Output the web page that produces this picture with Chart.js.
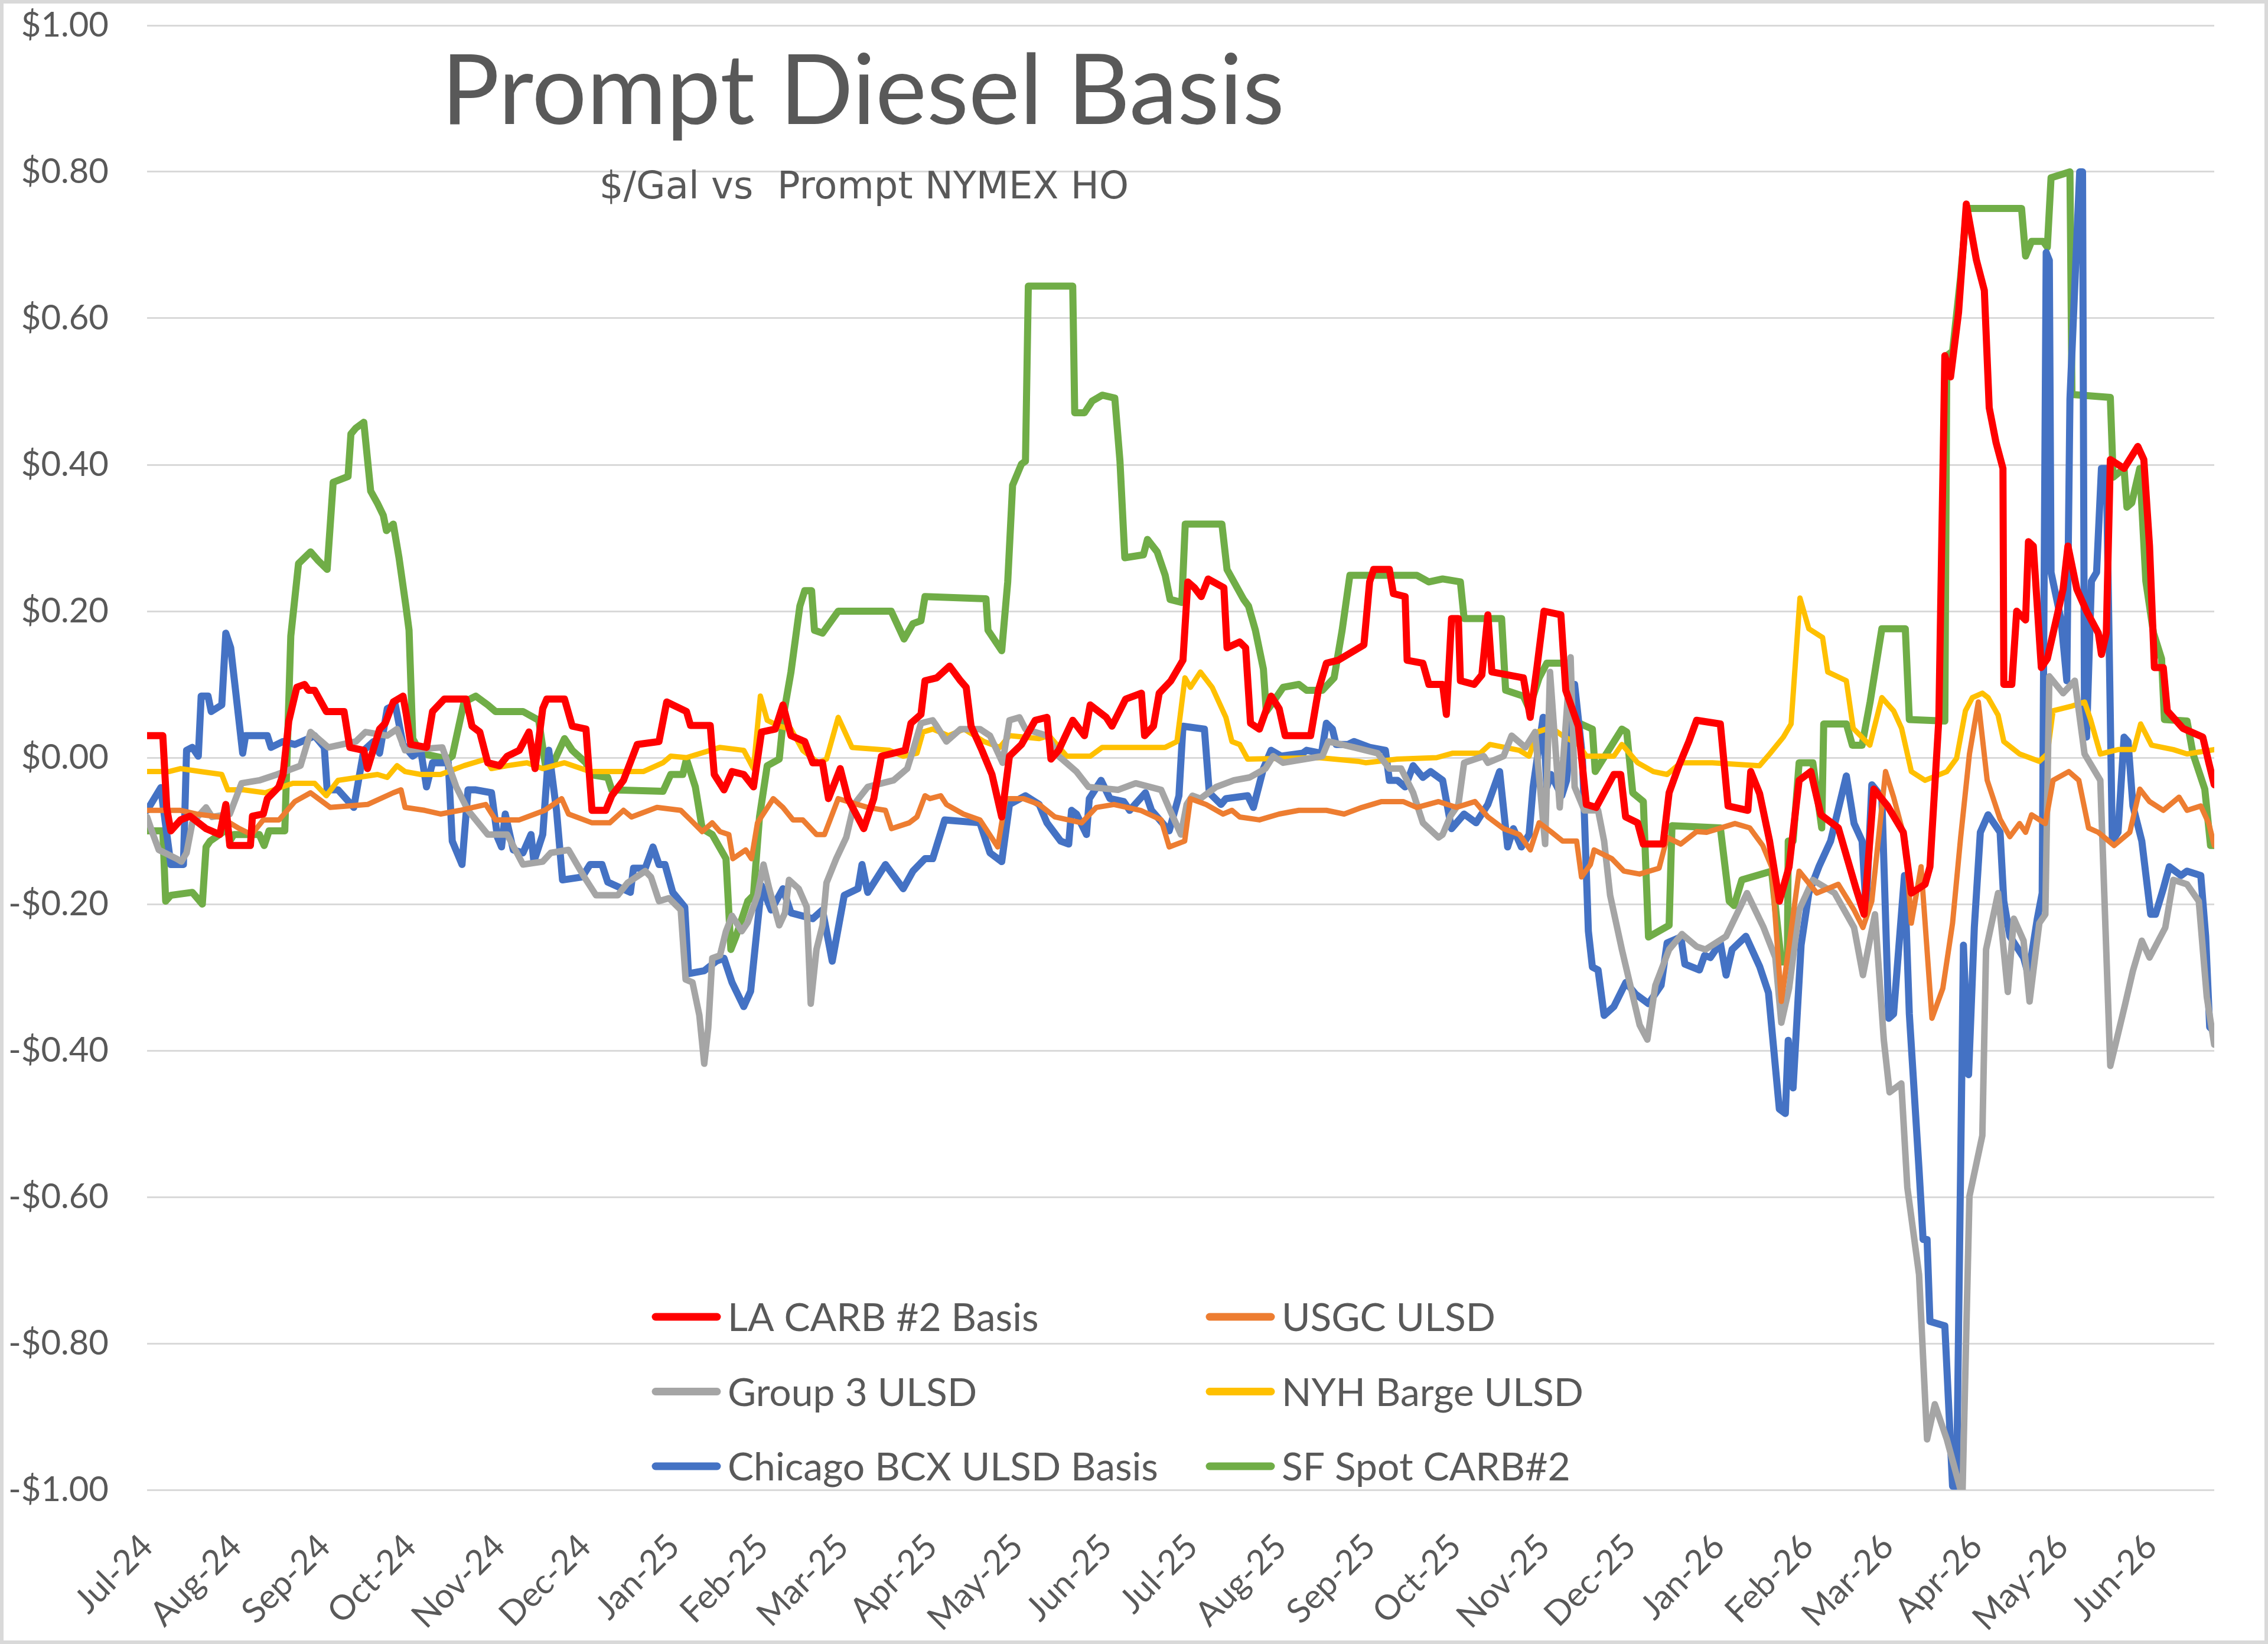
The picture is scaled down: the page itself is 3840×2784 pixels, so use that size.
<!DOCTYPE html>
<html lang="en">
  <head>
    <meta charset="UTF-8" />
    <title>Prompt Diesel Basis</title>
    <script src="https://cdn.jsdelivr.net/npm/chart.js"></script>
    <style>
      html, body { margin: 0; padding: 0; background: #fff; overflow: hidden; }
      canvas { display: block; }
    </style>
  </head>
  <body>
    <canvas id="basisChart" width="3840" height="2784"></canvas>

    <script>
      // x values are days since 1 Jul 2024, y values are $/gal vs prompt NYMEX HO
      const monthLabels = [
        "Jul-24", "Aug-24", "Sep-24", "Oct-24", "Nov-24", "Dec-24",
        "Jan-25", "Feb-25", "Mar-25", "Apr-25", "May-25", "Jun-25",
        "Jul-25", "Aug-25", "Sep-25", "Oct-25", "Nov-25", "Dec-25",
        "Jan-26", "Feb-26", "Mar-26", "Apr-26", "May-26", "Jun-26",
      ];
      const lastDay = 722;

      const laCarb = [
        [0,0.03],[5.5,0.03],[6.9,-0.07],[8.3,-0.1],[11.7,-0.085],[15,-0.08],[20.6,-0.097],[25.4,-0.105],[27.5,-0.064],[28.9,-0.12],
        [36.1,-0.12],[36.8,-0.08],[40.6,-0.077],[42,-0.056],[46,-0.04],[47.5,-0.023],[49.5,0.05],[52.3,0.096],[55,0.1],[56.4,0.092],
        [58.5,0.092],[62.6,0.063],[68.8,0.063],[70.8,0.014],[75.7,0.01],[77,-0.015],[81.2,0.039],[83.2,0.047],[86,0.076],[89.4,0.084],
        [90.5,0.06],[92.1,0.018],[97.6,0.014],[99.7,0.063],[103.8,0.08],[111.4,0.08],[113.5,0.043],[116.2,0.035],[119,-0.007],[123.1,-0.011],
        [125.8,0.002],[130,0.01],[133.4,0.035],[135.5,-0.015],[138.2,0.067],[139.6,0.08],[145.8,0.08],[148.5,0.043],[153.3,0.039],[155.4,-0.072],
        [160.2,-0.072],[162.3,-0.052],[166.4,-0.031],[171.2,0.018],[178.8,0.022],[181.5,0.076],[188.4,0.063],[189.8,0.044],[196.7,0.044],[198.1,-0.023],
        [201.5,-0.044],[204.3,-0.019],[208.4,-0.023],[211.8,-0.04],[214.6,0.035],[219.4,0.039],[222.1,0.072],[224.9,0.03],[229.7,0.022],[232.5,-0.007],
        [235.9,-0.007],[238,-0.056],[242.1,-0.015],[244.8,-0.056],[250.3,-0.097],[253.8,-0.056],[256.5,0.002],[264.8,0.01],[266.8,0.047],[270.3,0.059],
        [271.7,0.105],[275.8,0.109],[280.3,0.125],[284.1,0.105],[286.1,0.096],[287.8,0.043],[291.6,0.01],[295.1,-0.023],[298.5,-0.081],[301.2,0.002],
        [305.4,0.018],[310.2,0.051],[314.3,0.055],[315.7,-0.002],[318.4,0.01],[323.3,0.051],[327.4,0.03],[329.4,0.072],[335,0.055],[337,0.043],
        [341.8,0.08],[347.3,0.088],[348.4,0.03],[351.5,0.043],[353.5,0.088],[357.6,0.105],[361.8,0.133],[363.5,0.24],[365.8,0.232],[368.2,0.22],
        [370.6,0.244],[376.1,0.232],[377.2,0.15],[381.6,0.158],[383.7,0.15],[385.4,0.047],[388.5,0.039],[392.6,0.084],[395.4,0.067],[397.5,0.03],
        [406.4,0.03],[409.1,0.092],[411.9,0.129],[416,0.133],[425,0.154],[427,0.24],[428.4,0.257],[433.9,0.257],[435.3,0.224],[439.4,0.22],
        [440.1,0.133],[445.6,0.129],[447.7,0.1],[452.5,0.1],[453.8,0.059],[455.6,0.19],[458,0.19],[458.7,0.105],[463.5,0.1],[466.2,0.113],
        [468.3,0.195],[469.7,0.117],[480.7,0.109],[483.1,0.055],[485.5,0.125],[487.9,0.2],[493.8,0.195],[495.5,0.092],[499.9,0.043],[502.7,-0.064],
        [506.1,-0.068],[512.3,-0.023],[514.7,-0.023],[516.4,-0.081],[520.6,-0.089],[522.6,-0.118],[529.5,-0.118],[531.6,-0.048],[535,-0.011],[538.5,0.022],
        [541.2,0.051],[549.5,0.046],[552.2,-0.066],[559.1,-0.072],[560.1,-0.019],[563.2,-0.049],[566.7,-0.114],[570.1,-0.196],[573.5,-0.149],[577,-0.031],
        [581.1,-0.019],[584.6,-0.078],[590.7,-0.096],[596.9,-0.179],[599.7,-0.214],[603.1,-0.043],[607.9,-0.066],[613.4,-0.102],[616.2,-0.185],[621,-0.173],
        [622.7,-0.149],[625.8,0.052],[627.9,0.549],[629.9,0.52],[632.7,0.608],[635.4,0.756],[638.9,0.68],[641.7,0.638],[643.4,0.478],[645.8,0.43],
        [648.2,0.395],[648.5,0.1],[651.3,0.1],[653,0.2],[656.1,0.188],[657.1,0.295],[658.8,0.289],[661.6,0.123],[663.7,0.135],[669.2,0.23],
        [670.9,0.289],[674,0.23],[677.4,0.2],[681.5,0.17],[682.6,0.141],[684.3,0.17],[685.7,0.407],[690.5,0.395],[695.3,0.425],[697.4,0.407],
        [699.4,0.289],[701.1,0.123],[704.2,0.123],[705.6,0.064],[711.1,0.04],[718,0.028],[720.1,-0.007],[722,-0.037],
      ];

      const usgc = [
        [0,-0.072],[11.7,-0.072],[17.2,-0.077],[25.4,-0.081],[32.3,-0.097],[36.5,-0.105],[40.6,-0.085],[46.1,-0.085],[51.6,-0.06],[57.1,-0.048],
        [64,-0.068],[77,-0.064],[86,-0.048],[88.7,-0.044],[90.1,-0.068],[97,-0.072],[102.5,-0.077],[109.3,-0.072],[118.3,-0.064],[121.7,-0.085],
        [130,-0.085],[138.9,-0.072],[144.8,-0.056],[147.2,-0.077],[155.4,-0.089],[161.6,-0.089],[166.4,-0.072],[169.2,-0.081],[178.1,-0.068],[186.4,-0.072],
        [189.8,-0.085],[193.9,-0.101],[197.4,-0.089],[200.1,-0.101],[203.2,-0.105],[204.6,-0.138],[209.1,-0.126],[211.1,-0.138],[213.2,-0.089],[218.7,-0.056],
        [222.1,-0.068],[225.6,-0.085],[229,-0.085],[233.8,-0.105],[236.6,-0.105],[241.4,-0.056],[251.7,-0.068],[257.9,-0.072],[260,-0.097],[266.2,-0.089],
        [268.9,-0.081],[271.7,-0.052],[273.4,-0.056],[277.2,-0.052],[279.2,-0.064],[285.1,-0.077],[290.9,-0.085],[297.1,-0.122],[299.9,-0.056],[306.1,-0.056],
        [311.6,-0.064],[317.1,-0.081],[326.4,-0.089],[331.5,-0.068],[337.7,-0.064],[347,-0.072],[354.2,-0.085],[357,-0.122],[362.4,-0.114],[364.4,-0.056],
        [369.9,-0.064],[375.8,-0.077],[378.9,-0.072],[381.6,-0.081],[388.5,-0.085],[395.4,-0.077],[402.3,-0.072],[411.9,-0.072],[418.1,-0.077],[424.3,-0.068],
        [431.2,-0.06],[438.7,-0.06],[443.5,-0.068],[451.1,-0.06],[457.3,-0.068],[463.8,-0.06],[468.3,-0.081],[473.8,-0.097],[479.3,-0.105],[483.1,-0.126],
        [486.2,-0.089],[490.3,-0.101],[494.4,-0.114],[499.3,-0.114],[501,-0.163],[504.1,-0.146],[505.4,-0.126],[511.6,-0.138],[515.8,-0.155],[521.3,-0.159],
        [528.1,-0.151],[530.9,-0.109],[535.7,-0.118],[541.2,-0.101],[544.7,-0.102],[554.6,-0.09],[559.8,-0.096],[564.3,-0.12],[567.4,-0.149],[570.8,-0.333],
        [573.5,-0.256],[577,-0.155],[583.2,-0.185],[590.7,-0.173],[596.2,-0.208],[599.3,-0.232],[602.4,-0.196],[607.2,-0.019],[610,-0.054],[614.1,-0.114],
        [616.2,-0.226],[619.6,-0.149],[623.4,-0.356],[627.2,-0.315],[630.6,-0.226],[633.4,-0.11],[636.5,0.005],[639.6,0.076],[642.7,-0.031],[647.2,-0.084],
        [650.6,-0.108],[654,-0.09],[656.1,-0.102],[658.2,-0.078],[663,-0.09],[665.7,-0.031],[671.2,-0.019],[674.7,-0.031],[678.1,-0.096],[681.5,-0.102],
        [687,-0.12],[692.5,-0.102],[696,-0.043],[699.4,-0.06],[704.2,-0.072],[709.7,-0.054],[712.5,-0.072],[717.3,-0.066],[720.1,-0.09],[722,-0.12],
      ];

      const group3 = [
        [0,-0.081],[2.1,-0.105],[4.1,-0.126],[10.3,-0.138],[12,-0.142],[13.8,-0.13],[15.8,-0.089],[20.6,-0.068],[22.7,-0.081],[28.9,-0.077],
        [33,-0.035],[39.2,-0.031],[45.4,-0.023],[53.6,-0.011],[57.1,0.035],[63.3,0.014],[72.9,0.022],[76.3,0.035],[83.9,0.03],[87.3,0.039],
        [90.1,0.01],[103.1,0.014],[108,-0.04],[112.1,-0.072],[119,-0.105],[125.8,-0.105],[131.3,-0.146],[138.2,-0.142],[141,-0.13],[147.2,-0.126],
        [152.7,-0.163],[156.8,-0.188],[164.4,-0.188],[167.8,-0.171],[174,-0.155],[176,-0.163],[178.8,-0.196],[182.3,-0.192],[186.4,-0.208],[188.1,-0.303],
        [190.5,-0.307],[192.9,-0.352],[194.6,-0.418],[196,-0.369],[197.4,-0.274],[200.1,-0.27],[202.2,-0.237],[204.3,-0.216],[207.7,-0.237],[209.8,-0.225],
        [213.2,-0.188],[215.3,-0.146],[217.3,-0.179],[220.8,-0.229],[222.8,-0.212],[224.2,-0.167],[227.6,-0.179],[230.4,-0.204],[231.8,-0.336],[233.8,-0.262],
        [235.9,-0.229],[237.3,-0.171],[240.7,-0.138],[244.2,-0.109],[246.9,-0.064],[251.7,-0.04],[260.7,-0.031],[265.5,-0.015],[267.5,0.01],[270.3,0.047],
        [274.4,0.051],[275.8,0.043],[279.2,0.022],[284.1,0.039],[290.9,0.039],[294.4,0.03],[298.8,-0.007],[301.2,0.051],[304.7,0.055],[306.8,0.039],
        [314.3,0.03],[318.4,0.002],[324.6,-0.019],[328.8,-0.04],[339.1,-0.044],[345.3,-0.035],[354.2,-0.044],[357.3,-0.072],[361.1,-0.105],[363.1,-0.064],
        [365.1,-0.052],[367.9,-0.056],[373.4,-0.04],[379.6,-0.031],[385.1,-0.027],[390.6,-0.015],[393.3,0.002],[396.8,-0.007],[410.5,0.002],[412.6,0.022],
        [421.5,0.014],[429.8,0.006],[433.9,-0.015],[438,-0.015],[442.2,-0.048],[445.6,-0.089],[451.1,-0.109],[452.5,-0.105],[455.2,-0.08],[458,-0.064],
        [460,-0.007],[466.9,0.002],[468.3,-0.007],[473.8,0.002],[476.6,0.03],[481.4,0.014],[484.8,0.035],[488.3,-0.118],[490,0.117],[493.4,-0.068],
        [497.2,0.137],[498.6,-0.04],[502,-0.072],[506.8,-0.072],[508.9,-0.114],[511,-0.188],[515.1,-0.262],[521.3,-0.365],[524,-0.385],[526.8,-0.311],
        [531.6,-0.262],[536.1,-0.241],[541.2,-0.258],[544.3,-0.262],[551.5,-0.244],[558.8,-0.185],[564.6,-0.232],[568.7,-0.273],[570.8,-0.362],[573.5,-0.315],
        [577,-0.208],[581.8,-0.167],[589.4,-0.185],[596.2,-0.232],[599.3,-0.297],[603.5,-0.214],[606.6,-0.386],[608.6,-0.457],[612.7,-0.445],[614.8,-0.587],
        [618.9,-0.706],[621.7,-0.931],[624.4,-0.883],[628.6,-0.931],[633.4,-1.0],[634.1,-1.0],[636.5,-0.599],[641,-0.516],[642.3,-0.262],[646.5,-0.185],
        [649.9,-0.32],[652,-0.22],[655.4,-0.25],[657.5,-0.333],[660.9,-0.226],[663,-0.214],[664.4,0.111],[669.2,0.088],[673.3,0.105],[676.7,0.005],
        [682.2,-0.031],[685.7,-0.421],[690.8,-0.338],[693.6,-0.291],[696.7,-0.25],[699.4,-0.273],[704.9,-0.232],[707.7,-0.167],[712.5,-0.173],[716.6,-0.196],
        [719.4,-0.327],[722,-0.392],
      ];

      const nyhBarge = [
        [0,-0.019],[7.6,-0.019],[11.7,-0.015],[18.6,-0.019],[26.1,-0.023],[28.2,-0.044],[33.7,-0.044],[41.3,-0.048],[50.9,-0.035],[58.5,-0.035],
        [62.6,-0.052],[66.7,-0.031],[73.6,-0.027],[80.5,-0.023],[83.9,-0.027],[87.3,-0.011],[90.1,-0.019],[95.6,-0.023],[102.5,-0.023],[110.7,-0.011],
        [118.3,-0.002],[120.3,-0.015],[125.8,-0.011],[132.7,-0.007],[138.2,-0.015],[145.8,-0.007],[154.7,-0.019],[173.3,-0.019],[180.2,-0.007],[182.9,0.002],
        [188.4,0],[200.1,0.014],[208.4,0.01],[211.8,-0.015],[214.2,0.084],[216.6,0.051],[220.8,0.043],[224.9,0.039],[229,0.01],[234.5,-0.007],
        [237.3,-0.002],[241.4,0.055],[246.2,0.014],[259.3,0.01],[264.1,0.002],[268.9,0.006],[271,0.035],[274.4,0.039],[279.9,0.03],[285.4,0.039],
        [292.3,0.022],[297.8,0.014],[301.2,0.03],[311.6,0.026],[315,0.03],[321.2,0.002],[329.4,0.002],[333.6,0.014],[355.6,0.014],[359.7,0.022],
        [362.5,0.109],[364.4,0.096],[367.9,0.117],[372,0.096],[376.8,0.055],[378.9,0.022],[381.6,0.018],[384.4,-0.002],[409.1,0],[422.9,-0.005],
        [425.6,-0.007],[436.7,-0.002],[450.4,0],[455.9,0.006],[465.6,0.006],[469,0.018],[479.3,0.01],[482.7,0.002],[485.5,0.035],[490.3,0.041],
        [494.4,0.03],[499.9,0.018],[502.7,0.002],[512.3,0.002],[515.1,0.018],[520.6,-0.007],[526.1,-0.019],[530.9,-0.023],[535.7,-0.007],[546.7,-0.007],
        [563.2,-0.011],[566.7,0.005],[571.5,0.028],[574.2,0.046],[577.3,0.218],[580.4,0.176],[585.2,0.164],[587,0.117],[593.5,0.105],[595.9,0.04],
        [601.7,0.017],[605.9,0.082],[610,0.064],[612.8,0.04],[616.2,-0.019],[621,-0.031],[628.6,-0.019],[632,-0.001],[635.1,0.064],[637.5,0.082],
        [641,0.088],[643,0.082],[646.5,0.058],[648.5,0.022],[654,0.005],[660.9,-0.005],[663.7,0.005],[665.7,0.064],[671.9,0.07],[676.7,0.076],
        [678.8,0.052],[682.2,0.005],[688.4,0.011],[693.9,0.011],[696.3,0.046],[700.1,0.017],[707.7,0.011],[712.5,0.005],[722,0.011],
      ];

      const chicagoBcx = [
        [0,-0.072],[4.8,-0.041],[5.8,-0.072],[8.3,-0.146],[12.7,-0.146],[13.8,0.01],[15.8,0.014],[17.9,0.002],[18.9,0.084],[21.3,0.084],
        [22.4,0.063],[26.1,0.072],[27.5,0.17],[29.2,0.15],[30.9,0.092],[33.4,0.006],[34.4,0.03],[42,0.03],[43.3,0.014],[47.5,0.022],
        [51.6,0.018],[56.4,0.026],[58.5,0.03],[61.9,0.014],[62.9,-0.044],[66.7,-0.044],[72.2,-0.068],[75.7,0.01],[79.1,0.022],[81.2,0.006],
        [83.9,0.067],[86.7,0.072],[89.4,0.018],[92.8,0.002],[95.6,0.01],[97.6,-0.04],[99.7,-0.007],[105.2,-0.007],[106.6,-0.114],[110,-0.146],
        [112.1,-0.044],[114.8,-0.044],[120.3,-0.048],[122.4,-0.109],[123.8,-0.122],[125.1,-0.077],[127.9,-0.126],[131.3,-0.13],[134.1,-0.105],[135.1,-0.142],
        [138.2,-0.105],[140.3,0.01],[143,-0.072],[145.1,-0.167],[152,-0.163],[154.7,-0.146],[158.9,-0.146],[160.9,-0.17],[168.8,-0.184],[169.9,-0.151],
        [174,-0.151],[176.7,-0.122],[178.8,-0.146],[180.9,-0.146],[183.6,-0.184],[187.8,-0.204],[189.1,-0.295],[194.6,-0.291],[198.8,-0.278],[201.5,-0.274],
        [204.3,-0.307],[208.4,-0.34],[210.8,-0.319],[214.6,-0.175],[218,-0.208],[222.1,-0.179],[224.9,-0.212],[232.5,-0.22],[235.9,-0.208],[239.3,-0.278],
        [243.5,-0.188],[248.3,-0.179],[249.7,-0.146],[251.7,-0.184],[257.9,-0.146],[264.1,-0.179],[267.5,-0.155],[271.7,-0.138],[274.4,-0.138],[278.6,-0.085],
        [290.9,-0.089],[294.4,-0.13],[298.5,-0.142],[301.2,-0.064],[306.8,-0.052],[311.6,-0.064],[314.3,-0.089],[319.1,-0.114],[321.9,-0.118],[322.9,-0.072],
        [324.6,-0.077],[328.1,-0.105],[329.1,-0.056],[333.2,-0.031],[336.3,-0.056],[341.1,-0.06],[343.2,-0.072],[348.7,-0.048],[350.8,-0.072],[357,-0.1],
        [360.4,-0.052],[361.8,0.043],[369.3,0.039],[371,-0.048],[375.1,-0.064],[376.8,-0.056],[384.4,-0.052],[386.4,-0.068],[389.9,-0.015],[392.6,0.01],
        [396.1,0.002],[403.6,0.006],[405,0.01],[410.2,0.006],[411.9,0.047],[414,0.039],[415.3,0.018],[419.5,0.018],[421.5,0.022],[427,0.014],
        [432.5,0.01],[433.9,-0.031],[436.7,-0.031],[439.4,-0.04],[442.2,-0.011],[445.6,-0.027],[448.3,-0.019],[452.5,-0.031],[455.6,-0.097],[460,-0.077],
        [464.2,-0.089],[468.3,-0.064],[472.4,-0.019],[475.2,-0.122],[477.2,-0.097],[480,-0.122],[482.7,-0.105],[484.1,-0.04],[487.6,0.055],[488.9,-0.04],
        [490.3,-0.023],[494.1,-0.052],[495.8,-0.031],[497.5,0.043],[498.6,0.1],[501.3,0.002],[503.4,-0.237],[504.8,-0.286],[506.8,-0.29],[508.9,-0.352],
        [512.3,-0.34],[516.5,-0.307],[519.9,-0.323],[524.4,-0.336],[528.8,-0.311],[530.9,-0.253],[535.7,-0.245],[537.1,-0.282],[542.2,-0.29],[544,-0.27],
        [546,-0.273],[549.5,-0.253],[551.5,-0.297],[553.6,-0.262],[558.4,-0.244],[563.2,-0.285],[566.3,-0.321],[570.1,-0.48],[572.2,-0.486],[573.2,-0.386],
        [574.9,-0.451],[577.7,-0.256],[580.4,-0.185],[583.9,-0.149],[588,-0.114],[593.5,-0.025],[596.2,-0.09],[599,-0.114],[600.4,-0.208],[602.4,-0.037],
        [605.9,-0.054],[608.3,-0.356],[610,-0.35],[613.8,-0.161],[615.5,-0.35],[618.9,-0.563],[620.3,-0.658],[621.7,-0.658],[622.7,-0.77],[627.9,-0.776],
        [630.6,-0.995],[632,-0.995],[634.4,-0.256],[636.2,-0.433],[638.2,-0.232],[640.3,-0.102],[643,-0.078],[647.2,-0.102],[648.5,-0.196],[650.6,-0.244],
        [655.4,-0.273],[657.1,-0.297],[660.2,-0.22],[661.9,-0.185],[663.3,0.69],[664.4,0.679],[665,0.253],[668.5,0.188],[670.5,0.105],[671.6,0.49],
        [675,0.8],[676,0.8],[676.7,0.028],[677.4,0.028],[679.1,0.241],[680.9,0.253],[682.6,0.395],[684.3,0.395],[686.4,-0.114],[688.4,-0.102],
        [690.5,0.028],[691.9,0.022],[693.6,-0.066],[696.7,-0.114],[699.8,-0.214],[701.5,-0.214],[704.2,-0.179],[706.3,-0.149],[710.4,-0.161],[712.5,-0.155],
        [717.3,-0.161],[719,-0.244],[720.4,-0.368],[722,-0.374],
      ];

      const sfSpot = [
        [0,-0.1],[5.5,-0.1],[6.5,-0.196],[8.3,-0.188],[15.8,-0.184],[19.3,-0.2],[20.6,-0.122],[22,-0.114],[28.2,-0.097],[28.9,-0.114],
        [30.3,-0.105],[39.2,-0.105],[40.9,-0.12],[42.6,-0.1],[48.1,-0.1],[50.2,0.166],[52.9,0.265],[57.1,0.281],[59.8,0.269],[62.9,0.257],
        [65,0.376],[70.2,0.384],[71.2,0.442],[72.9,0.45],[75.7,0.458],[78.1,0.364],[80.5,0.347],[82.5,0.331],[83.6,0.31],[86,0.319],
        [88,0.273],[90.4,0.207],[91.5,0.174],[92.8,0.026],[95.6,0.006],[105.2,-0.002],[106.6,0.002],[110.7,0.076],[114.8,0.084],[119,0.072],
        [121.7,0.063],[131.3,0.063],[136.8,0.051],[139.3,-0.015],[141,-0.015],[145.8,0.026],[148.5,0.01],[153.3,-0.007],[154.7,-0.023],[160.9,-0.027],
        [162.3,-0.044],[180.2,-0.046],[182.9,-0.023],[187.1,-0.023],[188.4,-0.002],[191.5,-0.04],[193.9,-0.097],[197.4,-0.105],[202.2,-0.138],[203.9,-0.262],
        [205.6,-0.245],[209.8,-0.196],[211.8,-0.188],[213.9,-0.081],[216.6,-0.011],[220.8,-0.002],[222.5,0.063],[224.9,0.117],[228,0.207],[229.7,0.228],
        [232.1,0.228],[233.1,0.174],[235.9,0.17],[241.4,0.2],[259.9,0.2],[264.4,0.162],[267.5,0.183],[270.3,0.187],[271.7,0.22],[293,0.217],
        [293.7,0.174],[298.5,0.146],[300.6,0.24],[302.3,0.372],[305.4,0.401],[306.8,0.405],[307.8,0.644],[323.3,0.644],[324,0.471],[327.4,0.471],
        [330.1,0.487],[333.6,0.495],[338,0.491],[339.8,0.405],[341.5,0.273],[348,0.277],[349.4,0.298],[352.8,0.281],[355.6,0.249],[357.3,0.216],
        [361.4,0.212],[362.6,0.319],[375.4,0.319],[377.2,0.257],[379.6,0.24],[383,0.216],[384.7,0.207],[387.1,0.174],[389.9,0.121],[390.9,0.063],
        [392.6,0.072],[396.8,0.096],[402.3,0.1],[405,0.092],[410.5,0.092],[414.6,0.109],[417.4,0.174],[420.1,0.249],[443.5,0.249],[447.7,0.24],
        [452.5,0.244],[458.7,0.24],[460,0.19],[473.1,0.19],[474.5,0.092],[480.7,0.084],[482.7,0.067],[486.2,0.109],[488.9,0.129],[496.5,0.129],
        [497.9,0.051],[504.8,0.039],[505.8,-0.019],[515.1,0.039],[516.8,0.035],[518.9,-0.048],[522.6,-0.06],[524.4,-0.245],[531.6,-0.229],[532.6,-0.093],
        [549.5,-0.096],[552.6,-0.196],[554.3,-0.202],[557,-0.167],[567.4,-0.155],[570.8,-0.279],[572.9,-0.279],[573.2,-0.114],[574.9,-0.114],[577,-0.007],
        [581.8,-0.007],[584.9,-0.096],[585.6,0.046],[593.5,0.046],[595.6,0.017],[599,0.017],[601.8,0.076],[605.9,0.176],[614.1,0.176],[615.5,0.052],
        [627.9,0.05],[628.6,0.549],[630.6,0.555],[633.4,0.656],[635.5,0.75],[654.7,0.75],[656.1,0.685],[658.2,0.705],[662.3,0.705],[663.7,0.697],
        [665,0.792],[671.6,0.8],[672.3,0.496],[685.7,0.492],[686.7,0.383],[690.5,0.395],[691.5,0.342],[693.2,0.348],[696,0.395],[698.1,0.241],
        [700.8,0.17],[703.6,0.135],[704.6,0.052],[712.5,0.05],[714.6,0.005],[718.7,-0.043],[720.7,-0.12],[722,-0.12],
      ];

      // tick positions = day offset of the first of each month
      const monthDays = monthLabels.map(
        (m, i) => (Date.UTC(2024, 6 + i, 1) - Date.UTC(2024, 6, 1)) / 86400000
      );

      const textGray = "#595959";
      const toPoints = (arr) => arr.map((p) => ({ x: p[0], y: p[1] }));

      function series(label, arr, color, width) {
        return {
          label: label,
          data: toPoints(arr),
          borderColor: color,
          backgroundColor: color,
          borderWidth: width,
          pointRadius: 0,
          tension: 0,
          borderJoinStyle: "round",
          borderCapStyle: "round",
          fill: false,
        };
      }

      const chartDecor = {
        id: "chartDecor",
        beforeDraw(chart) {
          const c = chart.ctx;
          c.save();
          c.fillStyle = "#ffffff";
          c.fillRect(0, 0, chart.width, chart.height);
          c.restore();
        },
        afterDraw(chart) {
          const c = chart.ctx;
          c.save();
          // titles
          c.fillStyle = textGray;
          c.textAlign = "center";
          c.textBaseline = "alphabetic";
          c.font = "164px Lato";
          c.fillText("Prompt Diesel Basis", 1461, 210);
          c.font = "64px 'DejaVu Sans'";
          c.fillText("$/Gal vs  Prompt NYMEX HO", 1463, 336);

          // legend, 2 columns x 3 rows
          const colX = [1104, 2042];
          c.textAlign = "left";
          c.font = "66px Lato";
          chart.data.datasets.forEach((ds, i) => {
            const x = colX[i % 2];
            const y = 2230 + Math.floor(i / 2) * 126.5;
            c.strokeStyle = ds.borderColor;
            c.lineWidth = 13;
            c.lineCap = "round";
            c.beginPath();
            c.moveTo(x + 6, y);
            c.lineTo(x + 110, y);
            c.stroke();
            c.fillStyle = textGray;
            c.fillText(ds.label, x + 128, y + 24);
          });

          // outer frame
          c.strokeStyle = "#d9d9d9";
          c.lineWidth = 6;
          c.strokeRect(3, 3, chart.width - 6, chart.height - 6);
          c.restore();
        },
      };

      Chart.defaults.font.family = "Lato";
      Chart.defaults.color = textGray;

      const ctx = document.getElementById("basisChart").getContext("2d");
      const basisChart = new Chart(ctx, {
        type: "line",
        data: {
          datasets: [
            series("LA CARB #2 Basis", laCarb, "#FF0000", 12),
            series("USGC ULSD", usgc, "#ED7D31", 9),
            series("Group 3 ULSD", group3, "#A5A5A5", 11),
            series("NYH Barge ULSD", nyhBarge, "#FFC000", 9),
            series("Chicago BCX ULSD Basis", chicagoBcx, "#4472C4", 12),
            series("SF Spot CARB#2", sfSpot, "#70AD47", 12),
          ],
        },
        options: {
          responsive: false,
          animation: false,
          devicePixelRatio: 1,
          layout: {
            autoPadding: false,
            padding: { top: 43, right: 91, bottom: 0, left: 0 },
          },
          plugins: {
            legend: { display: false },
            title: { display: false },
            tooltip: { enabled: false },
          },
          scales: {
            x: {
              type: "linear",
              min: 0,
              max: lastDay,
              grid: { display: false, drawTicks: false },
              border: { display: false },
              afterBuildTicks(scale) {
                scale.ticks = monthDays.map((v) => ({ value: v }));
              },
              afterFit(scale) {
                scale.height = 261;
                scale.paddingLeft = 0;
                scale.paddingRight = 0;
              },
              ticks: {
                autoSkip: false,
                minRotation: 45,
                maxRotation: 45,
                padding: 62,
                color: textGray,
                font: { size: 58 },
                callback(value) {
                  const i = monthDays.indexOf(value);
                  return i >= 0 ? monthLabels[i] : "";
                },
              },
            },
            y: {
              min: -1,
              max: 1,
              grid: { color: "#d9d9d9", lineWidth: 3, drawTicks: false },
              border: { display: false },
              afterFit(scale) {
                // the top/bottom tick labels may hang outside the plot
                scale.width = 249;
                scale.paddingTop = 0;
                scale.paddingBottom = 0;
              },
              ticks: {
                stepSize: 0.2,
                padding: 65,
                color: textGray,
                font: { size: 58 },
                callback(value) {
                  const v = Math.round(value * 100) / 100;
                  return (v < 0 ? "-$" : "$") + Math.abs(v).toFixed(2);
                },
              },
            },
          },
        },
        plugins: [chartDecor],
      });
    </script>
  </body>
</html>
